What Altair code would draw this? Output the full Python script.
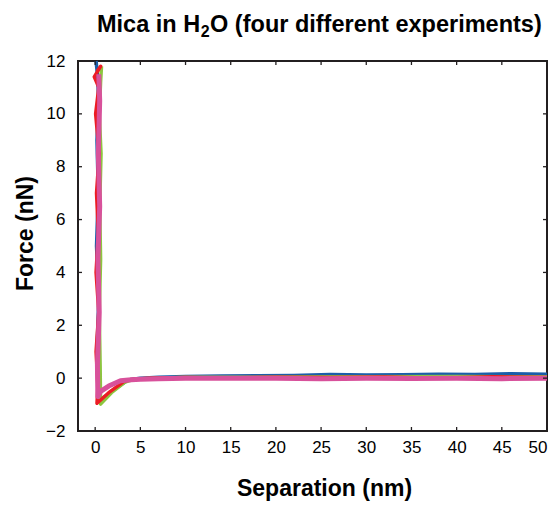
import altair as alt
import pandas as pd

# ---- data ----
series_names = ["Exp 1", "Exp 2", "Exp 3", "Exp 4"]
series_colors = ["#1b5ea9", "#8cc63f", "#ec1c24", "#d8519b"]
series_widths = [3.5, 3.5, 3.5, 5.0]

sep_1 = [50, 46, 42, 38, 34, 30, 26, 22, 18, 14, 10, 7, 5, 4, 3.5, 2.0, 0.5, 0.35, 0.2, 0.4, 0.15, 0.35, 0.2, 0.4, 0.25, 0.1]
force_1 = [0.15, 0.17, 0.14, 0.15, 0.13, 0.12, 0.14, 0.1, 0.09, 0.08, 0.06, 0.03, 0.0, -0.05, -0.1, -0.45, -0.85, -0.4, 1.0, 3.0, 5.0, 7.0, 9.0, 10.5, 11.5, 12.0]

sep_2 = [50, 40, 30, 20, 10, 5, 4, 3.3, 1.8, 0.6, 0.55, 0.45, 0.6, 0.5, 0.65, 0.45, 0.6, 0.7]
force_2 = [0.05, 0.06, 0.05, 0.04, 0.03, -0.02, -0.07, -0.15, -0.55, -0.98, 0.5, 2.5, 4.5, 6.5, 8.5, 10.0, 11.2, 11.8]

sep_3 = [50, 44, 38, 32, 26, 20, 14, 10, 6, 4, 3.2, 1.5, 0.2, 0.3, 0.1, 0.4, 0.1, 0.35, 0.15, 0.45, 0.05, 0.4, -0.1, 0.6, 0.2]
force_3 = [0.02, 0.05, 0.0, 0.04, 0.02, 0.03, 0.01, 0.02, 0.0, -0.05, -0.12, -0.55, -0.95, -0.3, 1.0, 2.5, 4.0, 5.5, 7.0, 8.5, 10.0, 11.0, 11.4, 11.8, 11.6]

sep_4 = [50, 45, 40, 35, 30, 25, 20, 15, 10, 7, 5, 4, 2.8, 1.5, 0.6, 0.3, 0.25, 0.45, 0.3, 0.5, 0.35, 0.5, 0.4]
force_4 = [0.0, -0.02, 0.0, -0.01, 0.0, -0.02, 0.0, 0.0, 0.0, -0.02, -0.04, -0.06, -0.1, -0.3, -0.5, -0.7, 0.5, 2.5, 4.5, 6.5, 8.5, 10.5, 11.5]

x_ticks = [0, 5, 10, 15, 20, 25, 30, 35, 40, 45, 50]
y_ticks = [-2, 0, 2, 4, 6, 8, 10, 12]

title_main = "Mica in H"
title_sub = "2"
title_rest = "O (four different experiments)"

# ---- layout ----
W, H = 469, 370
PAD_L, PAD_T = 78, 61
FONT = "Liberation Sans"
X_DOMAIN = [-1.9, 50]
Y_DOMAIN = [-2, 12]

rows = []
for i, (s, f) in enumerate([(sep_1, force_1), (sep_2, force_2), (sep_3, force_3), (sep_4, force_4)]):
    for k, (a, b) in enumerate(zip(s, f)):
        rows.append({"sep": a, "force": b, "series": series_names[i], "idx": k})
df = pd.DataFrame(rows)

xs = alt.Scale(domain=X_DOMAIN, nice=False, zero=False)
ys = alt.Scale(domain=Y_DOMAIN, nice=False, zero=False)

x_axis = alt.Axis(values=x_ticks, tickSize=0, domain=False, grid=False,
                  labelPadding=8, labelFontSize=17, labelFont=FONT,
                  labelColor="black", titleFont=FONT, titleFontSize=23,
                  titleFontWeight="bold", titleColor="black",
                  titleAnchor="start", titleAlign="center",
                  titleX=246, titleY=64, titleBaseline="alphabetic")
y_axis = alt.Axis(values=y_ticks, tickSize=0, domain=False, grid=False,
                  labelPadding=13, labelFontSize=17, labelFont=FONT,
                  labelColor="black", titleFont=FONT, titleFontSize=23,
                  titleFontWeight="bold", titleColor="black",
                  titleAngle=270, titleAlign="center",
                  titleX=-46, titleY=172, titleBaseline="alphabetic",
                  titleAnchor="start")
X_T = "Separation (nm)"
Y_T = "Force (nN)"

def ex():
    return alt.X("sep:Q", scale=xs, title=X_T, axis=x_axis)

def ey():
    return alt.Y("force:Q", scale=ys, title=Y_T, axis=y_axis)

layers = []
for i, name in enumerate(series_names):
    layers.append(
        alt.Chart(df[df["series"] == name])
        .mark_line(color=series_colors[i], strokeWidth=series_widths[i], strokeJoin="round")
        .encode(x=ex(), y=ey(), order="idx:Q")
    )

xt = pd.DataFrame({"sep": x_ticks})
yt = pd.DataFrame({"force": y_ticks})
tick_color = "#231f20"
layers.append(alt.Chart(xt).mark_rule(color=tick_color, strokeWidth=1.3).encode(
    x=ex(), y=alt.value(H), y2=alt.value(H - 4)))
layers.append(alt.Chart(xt).mark_rule(color=tick_color, strokeWidth=1.3).encode(
    x=ex(), y=alt.value(0), y2=alt.value(4)))
layers.append(alt.Chart(yt).mark_rule(color=tick_color, strokeWidth=1.3).encode(
    y=ey(), x=alt.value(0), x2=alt.value(4)))
layers.append(alt.Chart(yt).mark_rule(color=tick_color, strokeWidth=1.3).encode(
    y=ey(), x=alt.value(W), x2=alt.value(W - 4)))

# title with subscript
TFS = 23.5
SFS = 16
one = pd.DataFrame({"a": [0]})
main_w = 4.39 * TFS
x0 = 19
base_y = -29
layers.append(alt.Chart(one).mark_text(text=title_main, font=FONT, fontSize=TFS, fontWeight="bold",
                                       align="left", baseline="alphabetic", color="black")
              .encode(x=alt.value(x0), y=alt.value(base_y)))
layers.append(alt.Chart(one).mark_text(text=title_sub, font=FONT, fontSize=SFS, fontWeight="bold",
                                       align="left", baseline="alphabetic", color="black")
              .encode(x=alt.value(x0 + main_w + 0.5), y=alt.value(base_y + 5)))
layers.append(alt.Chart(one).mark_text(text=title_rest, font=FONT, fontSize=TFS, fontWeight="bold",
                                       align="left", baseline="alphabetic", color="black")
              .encode(x=alt.value(x0 + main_w + 0.556 * SFS + 1), y=alt.value(base_y)))

chart = alt.layer(*layers).properties(
    width=W, height=H,
    autosize=alt.AutoSizeParams(type="none"),
    padding={"left": PAD_L, "top": PAD_T, "right": 554 - PAD_L - W, "bottom": 506 - PAD_T - H},
    background="white",
).configure_view(stroke=tick_color, strokeWidth=2)

chart.save("out.html", embed_options={"renderer": "svg", "actions": False})
